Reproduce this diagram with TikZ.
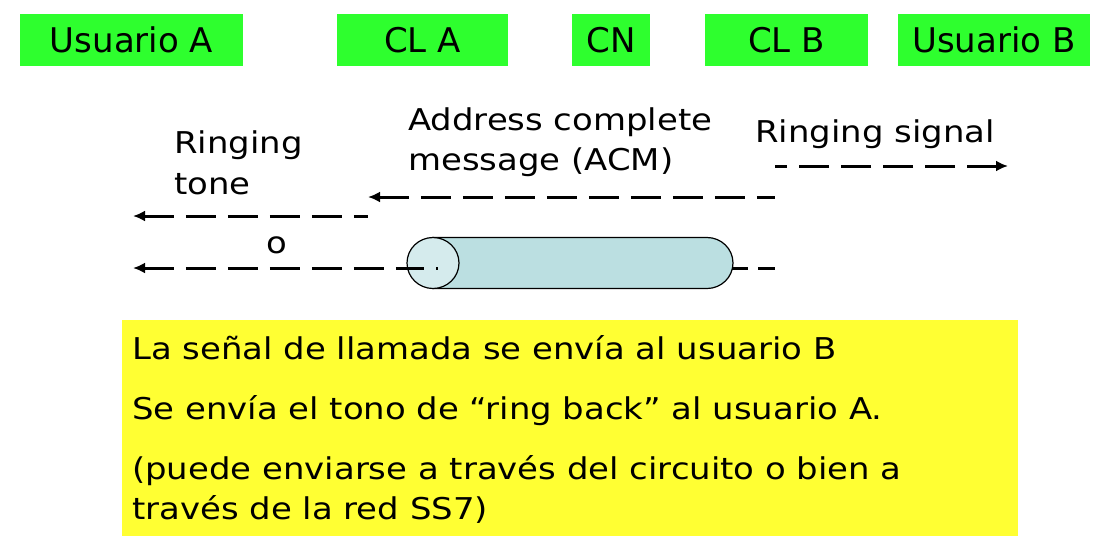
\documentclass[tikz,border=0pt]{standalone}
\usepackage{fontspec}
\setmainfont{DejaVu Sans}[FakeStretch=1.13]
\newfontfamily\hdrfont{DejaVu Sans}
\usetikzlibrary{arrows.meta}
\definecolor{hdrgreen}{RGB}{46,255,46}
\definecolor{noteyellow}{RGB}{255,255,51}
\definecolor{trunkbody}{RGB}{187,223,225}
\definecolor{trunkend}{RGB}{213,235,237}

\tikzset{
  hdr/.style={fill=hdrgreen, minimum height=52pt, inner sep=0pt, font=\hdrfont\fontsize{34}{40}\selectfont},
  lbl/.style={anchor=base west, inner sep=0pt, font=\fontsize{30}{40}\selectfont},
  sig/.style={line width=3pt, dash pattern=on 30pt off 12pt, {Latex[length=12pt,width=11pt]}-},
  trunk/.style={draw, line width=1.2pt},
}

\begin{document}
\begin{tikzpicture}[x=1pt,y=-1pt]
\useasboundingbox (0,0) rectangle (1104,554);

\node[hdr, minimum width=223pt] (usrA) at (131.5,40) {Usuario A};
\node[hdr, minimum width=171pt] (clA) at (422.5,40) {CL A};
\node[hdr, minimum width=78pt] (cn) at (611,40) {CN};
\node[hdr, minimum width=163pt] (clB) at (786.5,40) {CL B};
\node[hdr, minimum width=192pt] (usrB) at (994,40) {Usuario B};

\node[lbl] (ring1) at (174,153) {Ringing};
\node[lbl] (ring2) at (174,194) {tone};
\node[lbl] (acm1) at (408,130) {Address complete};
\node[lbl] (acm2) at (408,170) {message (ACM)};
\node[lbl] (sig) at (755,142) {Ringing signal};
\node[lbl] (orr) at (266,253) {o};

\coordinate (sigTail) at (775,166);
\coordinate (sigTip) at (1008,166);
\coordinate (acmTail) at (775,197);
\coordinate (acmTip) at (368,197);
\coordinate (toneTail) at (368,216);
\coordinate (toneTip) at (133,216);
\coordinate (oTail) at (424,268);
\coordinate (oTip) at (133,268);
\coordinate (stubA) at (725,268);
\coordinate (stubB) at (775,268);
\coordinate (dot) at (437,268);
\coordinate (cylL) at (433,263);
\coordinate (cylR) at (707,263);

\draw[sig] (sigTip) -- (sigTail);
\draw[sig] (acmTip) -- (acmTail);
\draw[sig] (toneTip) -- (toneTail);

\draw[line width=3pt, dash pattern=on 23pt off 10pt on 17pt off 10pt] (stubA) -- (stubB);
\filldraw[trunk, fill=trunkbody] (cylL) ++(0,-25.5) -- ++(274,0)
  arc[start angle=90, end angle=-90, x radius=26pt, y radius=25.5pt] -- ++(-274,0) -- cycle;
\filldraw[trunk, fill=trunkend] (cylL) ellipse[x radius=26pt, y radius=25.5pt];
\draw[sig] (oTip) -- (oTail);
\fill (dot) ++(-1.2,-1.5) rectangle ++(2.4,3);

\node[fill=noteyellow, minimum width=896pt, minimum height=216pt, inner sep=0pt, anchor=north west] (note) at (122,320) {};
\node[lbl] (line1) at (132,359) {La señal de llamada se envía al usuario B};
\node[lbl] (line2) at (132,419) {Se envía el tono de “ring back” al usuario A.};
\node[lbl] (line3) at (132,479) {(puede enviarse a través del circuito o bien a};
\node[lbl] (line4) at (132,519) {través de la red SS7)};
\end{tikzpicture}
\end{document}
